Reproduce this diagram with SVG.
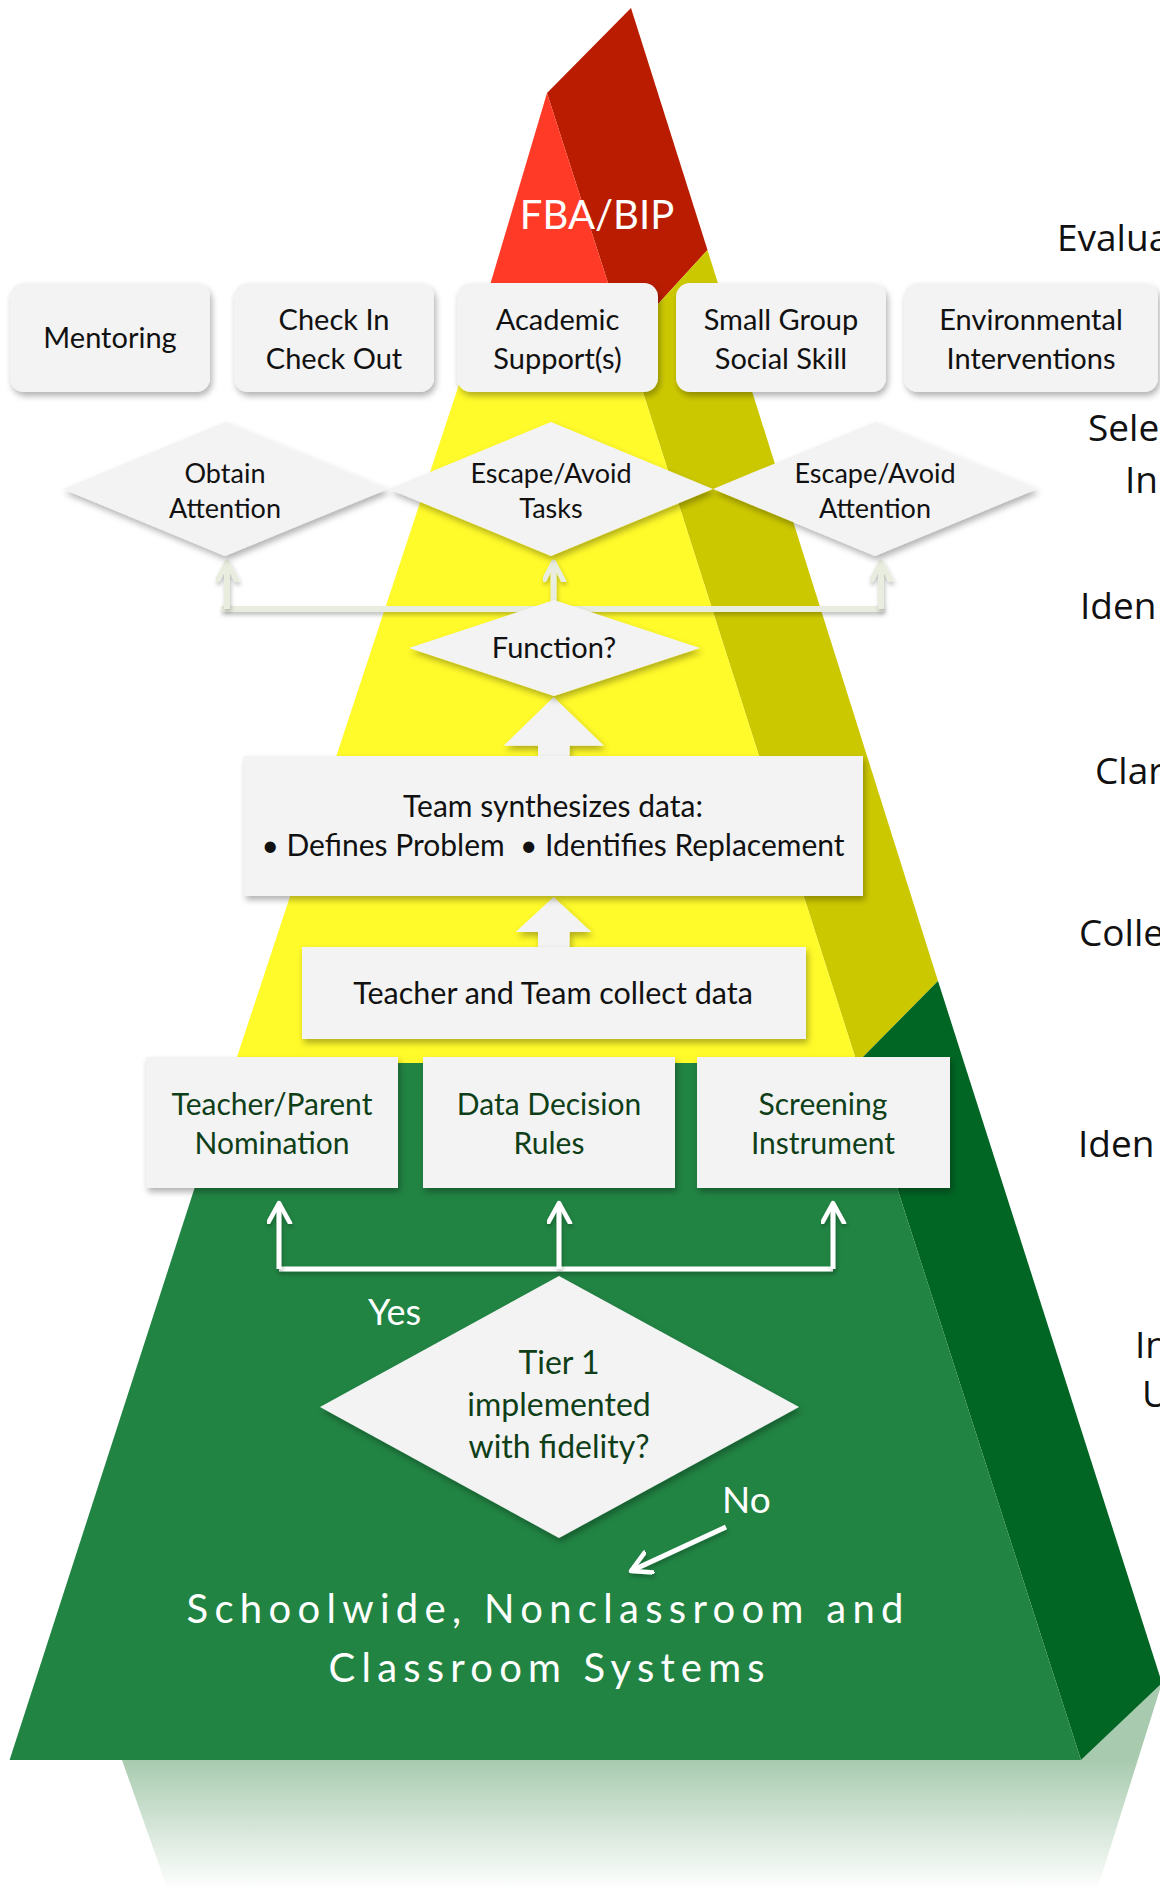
<svg xmlns="http://www.w3.org/2000/svg" width="1160" height="1890" viewBox="0 0 1160 1890">
<defs>
<style>
.box{fill:#F3F3F3;filter:url(#sh)}
.t{font-family:Lato,"Open Sans","Liberation Sans",sans-serif;font-size:29px;fill:#111;text-anchor:middle}
.dk{fill:#0F3F18}
.w{fill:#fff}
.side{font-family:"Open Sans","Liberation Sans",sans-serif;font-size:37px;fill:#111}
.lc{fill:none;stroke:#E8EDDF;stroke-width:6;filter:url(#sh2)}
.wc{fill:none;stroke:#fff;stroke-width:5;filter:url(#sh2)}
</style>
<filter id="sh" x="-10%" y="-10%" width="125%" height="135%"><feDropShadow dx="2" dy="4" stdDeviation="3" flood-color="#000" flood-opacity="0.3"/></filter>
<filter id="sh2" filterUnits="userSpaceOnUse" x="0" y="0" width="1160" height="1890"><feDropShadow dx="1" dy="3" stdDeviation="2" flood-color="#000" flood-opacity="0.25"/></filter>
<linearGradient id="refl" x1="0" y1="1760" x2="0" y2="1890" gradientUnits="userSpaceOnUse"><stop offset="0" stop-color="#A8CBAF"/><stop offset="1" stop-color="#A8CBAF" stop-opacity="0"/></linearGradient>
<marker id="ahL" markerUnits="userSpaceOnUse" markerWidth="30" markerHeight="30" refX="20" refY="11" orient="auto"><path d="M1,1 L20,11 L1,21" fill="none" stroke="#E8EDDF" stroke-width="5" stroke-linecap="round" stroke-linejoin="round"/></marker>
<marker id="ahW" markerUnits="userSpaceOnUse" markerWidth="30" markerHeight="30" refX="21" refY="12" orient="auto"><path d="M1,1 L21,12 L1,23" fill="none" stroke="#fff" stroke-width="4.5" stroke-linecap="round" stroke-linejoin="round"/></marker>
</defs>
<rect width="1160" height="1890" fill="#fff"/>
<g id="pyramid">
<polygon points="122,1760 1081,1760 1162,1683 1097,1890 168,1890" fill="url(#refl)"/>
<polygon points="547,93 631,8 707.5,250 626,339" fill="#B91C00"/>
<polygon points="547,93 626,339 474,339" fill="#FF3B28"/>
<polygon points="626,339 707.5,250 938,981 857,1063" fill="#CCC800"/>
<polygon points="474,339 626,339 857,1063 235,1063" fill="#FFFA2A"/>
<polygon points="857,1063 938,981 1162,1683 1081,1760" fill="#016524"/>
<polygon points="235,1063 857,1063 1081,1760 9.6,1760" fill="#218443"/>
<text x="597" y="229" class="t w" style="font-size:40px">FBA/BIP</text>
<text x="545" y="1623" class="t w" style="font-size:40px" textLength="717" lengthAdjust="spacing">Schoolwide, Nonclassroom and</text>
<text x="546.6" y="1682" class="t w" style="font-size:40px" textLength="436" lengthAdjust="spacing">Classroom Systems</text>
</g>
<g id="side-labels">
<text x="1057" y="251" class="side">Evalua</text>
<text x="1088" y="441" class="side">Sele</text>
<text x="1125" y="493" class="side">In</text>
<text x="1080" y="619" class="side">Iden</text>
<text x="1095" y="784" class="side">Clar</text>
<text x="1079" y="946" class="side">Colle</text>
<text x="1078" y="1157" class="side">Iden</text>
<text x="1135" y="1358" class="side">In</text>
<text x="1142" y="1407" class="side">U</text>
</g>
<g id="connectors">
<polyline class="lc" points="221,609 884,609"/>
<line class="lc" x1="227" y1="609" x2="227" y2="562" marker-end="url(#ahL)"/>
<line class="lc" x1="553.6" y1="609" x2="553.6" y2="562" marker-end="url(#ahL)"/>
<line class="lc" x1="881" y1="609" x2="881" y2="562" marker-end="url(#ahL)"/>
<polygon class="box" points="553.6,697 604,745.7 569.6,745.7 569.6,756 538,756 538,745.7 503.6,745.7"/>
<polygon class="box" points="553.6,897 591.5,932 569.6,932 569.6,947 538,947 538,932 515.6,932"/>
<polyline class="wc" points="279,1269 833,1269"/>
<line class="wc" x1="279" y1="1269" x2="279" y2="1203" marker-end="url(#ahW)"/>
<line class="wc" x1="559" y1="1269" x2="559" y2="1203" marker-end="url(#ahW)"/>
<line class="wc" x1="833" y1="1269" x2="833" y2="1203" marker-end="url(#ahW)"/>
<line class="wc" x1="726" y1="1527" x2="631" y2="1571" marker-end="url(#ahW)"/>
<text x="368" y="1325" class="t w" style="font-size:36px;text-anchor:start">Yes</text>
<text x="722" y="1513" class="t w" style="font-size:37px;text-anchor:start">No</text>
</g>
<g id="n-mentoring"><rect class="box" x="10" y="283" width="200" height="109" rx="14"/><text class="t" x="110" y="348">Mentoring</text></g>
<g id="n-cico"><rect class="box" x="234" y="283" width="200" height="109" rx="14"/><text class="t" x="334" y="330">Check In</text><text class="t" x="334" y="369">Check Out</text></g>
<g id="n-academic"><rect class="box" x="457" y="283" width="201" height="109" rx="14"/><text class="t" x="557.5" y="330">Academic</text><text class="t" x="557.5" y="369">Support(s)</text></g>
<g id="n-smallgroup"><rect class="box" x="676" y="283" width="210" height="109" rx="14"/><text class="t" x="781" y="330">Small Group</text><text class="t" x="781" y="369">Social Skill</text></g>
<g id="n-environmental"><rect class="box" x="904" y="283" width="254" height="109" rx="14"/><text class="t" x="1031" y="330">Environmental</text><text class="t" x="1031" y="369">Interventions</text></g>
<g id="n-obtain"><polygon class="box" points="63,489 225,422 388,489 225,556"/><text class="t" style="font-size:27px" x="225" y="483">Obtain</text><text class="t" style="font-size:27px" x="225" y="518">Attention</text></g>
<g id="n-tasks"><polygon class="box" points="389,489 551,422 713,489 551,556"/><text class="t" style="font-size:27px" x="551" y="483">Escape/Avoid</text><text class="t" style="font-size:27px" x="551" y="518">Tasks</text></g>
<g id="n-attention"><polygon class="box" points="713,489 875,422 1037,489 875,556"/><text class="t" style="font-size:27px" x="875" y="483">Escape/Avoid</text><text class="t" style="font-size:27px" x="875" y="518">Attention</text></g>
<g id="n-function"><polygon class="box" points="409,648 554,600 700,648 554,696"/><text class="t" x="554" y="658">Function?</text></g>
<g id="n-team"><rect class="box" x="244" y="756" width="619" height="140"/><text class="t" style="font-size:30px" x="553" y="817">Team synthesizes data:</text><text class="t" style="font-size:30px" x="553" y="856" xml:space="preserve">• Defines Problem  • Identifies Replacement</text></g>
<g id="n-collect"><rect class="box" x="302" y="947" width="504" height="92"/><text class="t" style="font-size:30.5px" x="553" y="1004">Teacher and Team collect data</text></g>
<g id="n-nomination"><rect class="box" x="146" y="1057" width="252" height="131"/><text class="t dk" style="font-size:30px" x="272" y="1115">Teacher/Parent</text><text class="t dk" style="font-size:30px" x="272" y="1154">Nomination</text></g>
<g id="n-rules"><rect class="box" x="423" y="1057" width="252" height="131"/><text class="t dk" style="font-size:30px" x="549" y="1115">Data Decision</text><text class="t dk" style="font-size:30px" x="549" y="1154">Rules</text></g>
<g id="n-screening"><rect class="box" x="697" y="1057" width="253" height="131"/><text class="t dk" style="font-size:30px" x="823" y="1115">Screening</text><text class="t dk" style="font-size:30px" x="823" y="1154">Instrument</text></g>
<g id="n-tier1"><polygon class="box" points="320,1407 559,1276 799,1407 559,1538"/><text class="t dk" style="font-size:32px" x="559" y="1374">Tier 1</text><text class="t dk" style="font-size:32px" x="559" y="1416">implemented</text><text class="t dk" style="font-size:32px" x="559" y="1458">with fidelity?</text></g>
</svg>
